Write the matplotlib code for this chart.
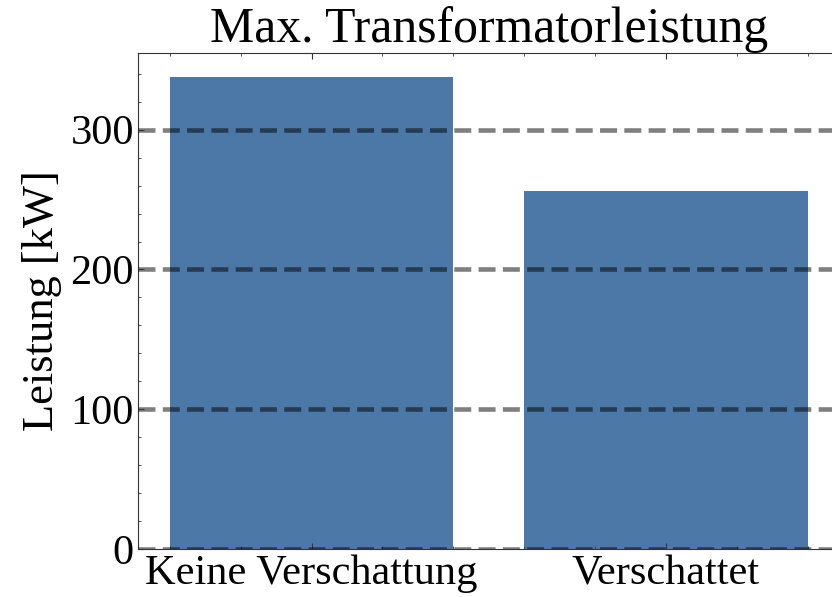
import matplotlib
matplotlib.use("Agg")
import matplotlib.pyplot as plt
from matplotlib.ticker import MultipleLocator

categories = ["Keine Verschattung", "Verschattet"]
values = [338, 256]
yticks = [0, 100, 200, 300]
title = "Max. Transformatorleistung"
ylabel = "Leistung [kW]"

plt.rcParams["font.family"] = ["Liberation Serif", "DejaVu Serif"]
plt.rcParams["mathtext.fontset"] = "stix"

fig = plt.figure(figsize=(8.32, 5.97), dpi=100)
ax = fig.add_axes([138/832, 48/597, (839.5-138)/832, (549-53)/597])

x = list(range(len(categories)))
ax.bar(x, values, width=0.8, color="#4C78A8", zorder=1)
ax.set_xticks(x)
ax.set_xticklabels(categories, fontsize=30.5)
ax.set_yticks(yticks)
ax.tick_params(axis="y", labelsize=30.5)
ax.xaxis.set_minor_locator(MultipleLocator(0.2))
ax.yaxis.set_minor_locator(MultipleLocator(20))
ax.tick_params(which="both", direction="in", top=True, right=True, color="#333333")
ax.tick_params(which="major", length=4, width=0.8)
ax.tick_params(which="minor", length=2, width=0.6)
ax.tick_params(axis="x", which="major", pad=4)
ax.tick_params(axis="y", which="major", pad=3)
ax.set_axisbelow(False)
ax.yaxis.grid(True, linestyle="--", color="black", alpha=0.5, linewidth=3.3, zorder=3)
ax.set_title(title, fontsize=35.8, pad=3)
ax.set_ylabel(ylabel, fontsize=32, labelpad=6)
for s in ax.spines.values():
    s.set_linewidth(0.8)
    s.set_color("#333333")

fig.savefig("out.png", dpi=100)
